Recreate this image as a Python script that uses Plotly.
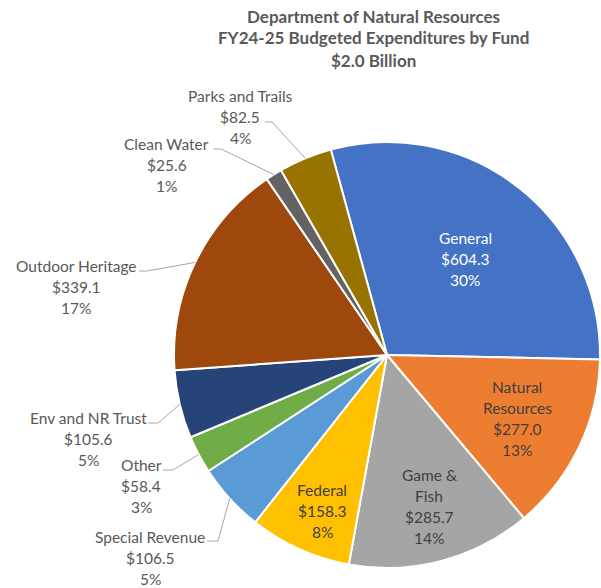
import math
import plotly.graph_objects as go

# ---- data (FY24-25 budgeted expenditures, $ millions) ----
funds = ["General", "Natural Resources", "Game & Fish", "Federal", "Special Revenue",
         "Other", "Env and NR Trust", "Outdoor Heritage", "Clean Water", "Parks and Trails"]
amounts = [604.3, 277.0, 285.7, 158.3, 106.5, 58.4, 105.6, 339.1, 25.6, 82.5]
pct_text = ["30%", "13%", "14%", "8%", "5%", "3%", "5%", "17%", "1%", "4%"]
name_lines = [["General"], ["Natural", "Resources"], ["Game &", "Fish"], ["Federal"],
              ["Special Revenue"], ["Other"], ["Env and NR Trust"], ["Outdoor Heritage"],
              ["Clean Water"], ["Parks and Trails"]]
colors = ["#4472C4", "#ED7D31", "#A5A5A5", "#FFC000", "#5B9BD5",
          "#70AD47", "#264478", "#9E480E", "#636363", "#997300"]

# ---- layout ----
W, H = 601, 588
CX, CY, R = 387, 355, 213          # pie centre and radius, pixels
ROTATION = -15.3                    # start angle of first slice (deg clockwise from 12 o'clock)
FONT = "Lato"
LABEL_SIZE = 15.5
TITLE_SIZE = 17
LINE_STEP = 21

# first-line centre of each label block
label_pos = {
    "General": (465, 238), "Natural Resources": (517, 387), "Game & Fish": (429, 475),
    "Federal": (322, 490), "Special Revenue": (150, 537), "Other": (141, 465),
    "Env and NR Trust": (88, 418), "Outdoor Heritage": (76, 266),
    "Clean Water": (167, 144), "Parks and Trails": (240, 96),
}
# leader line: start at label side, short horizontal run, then to slice edge
leader_start = {
    "Special Revenue": ((207, 541), (218, 541)),
    "Other": ((163, 470), (173, 470)),
    "Env and NR Trust": ((148, 423), (158, 423)),
    "Outdoor Heritage": ((139, 271), (147, 271)),
    "Clean Water": ((213, 149), (221, 149)),
    "Parks and Trails": ((265, 122), (272, 122)),
}
label_color = {"General": "white"}
inside_color = "#404040"
outside_color = "#595959"


def px(x, y):
    return x / W, 1 - y / H


fig = go.Figure(go.Pie(
    labels=funds,
    values=amounts,
    sort=False,
    direction="clockwise",
    rotation=ROTATION,
    marker=dict(colors=colors, line=dict(color="white", width=2)),
    textinfo="none",
    hoverinfo="label+value+percent",
    showlegend=False,
    domain=dict(x=[(CX - R) / W, (CX + R) / W], y=[(H - CY - R) / H, (H - CY + R) / H]),
))

annotations = []
shapes = []
total = sum(amounts)
angle = ROTATION
for name, amt, pct, lines in zip(funds, amounts, pct_text, name_lines):
    span = amt / total * 360
    mid = math.radians(angle + span / 2)
    angle += span

    x0, y0 = label_pos[name]
    col = label_color.get(name, inside_color if name not in leader_start else outside_color)
    for i, t in enumerate(lines + [f"${amt:.1f}", pct]):
        ax, ay = px(x0, y0 + i * LINE_STEP)
        annotations.append(dict(
            x=ax, y=ay, xref="paper", yref="paper", text=t, showarrow=False,
            xanchor="center", yanchor="middle",
            font=dict(family=FONT, size=LABEL_SIZE, color=col),
        ))

    if name in leader_start:
        (sx, sy), (ex, ey) = leader_start[name]
        edge_x = CX + R * math.sin(mid)
        edge_y = CY - R * math.cos(mid)
        p = [px(sx, sy), px(ex, ey), px(edge_x, edge_y)]
        shapes.append(dict(
            type="path", xref="paper", yref="paper",
            path=f"M {p[0][0]},{p[0][1]} L {p[1][0]},{p[1][1]} L {p[2][0]},{p[2][1]}",
            line=dict(color="#A6A6A6", width=1),
        ))

title_lines = ["Department of Natural Resources",
               "FY24-25 Budgeted Expenditures by Fund",
               "$2.0 Billion"]
for i, t in enumerate(title_lines):
    tx, ty = px(373, 16 + i * 22)
    annotations.append(dict(
        x=tx, y=ty, xref="paper", yref="paper", text=f"<b>{t}</b>", showarrow=False,
        xanchor="center", yanchor="middle",
        font=dict(family=FONT, size=TITLE_SIZE, color="#595959"),
    ))

fig.update_layout(
    width=W, height=H,
    margin=dict(l=0, r=0, t=0, b=0),
    paper_bgcolor="white",
    plot_bgcolor="white",
    annotations=annotations,
    shapes=shapes,
)

fig.write_html("out.html")
